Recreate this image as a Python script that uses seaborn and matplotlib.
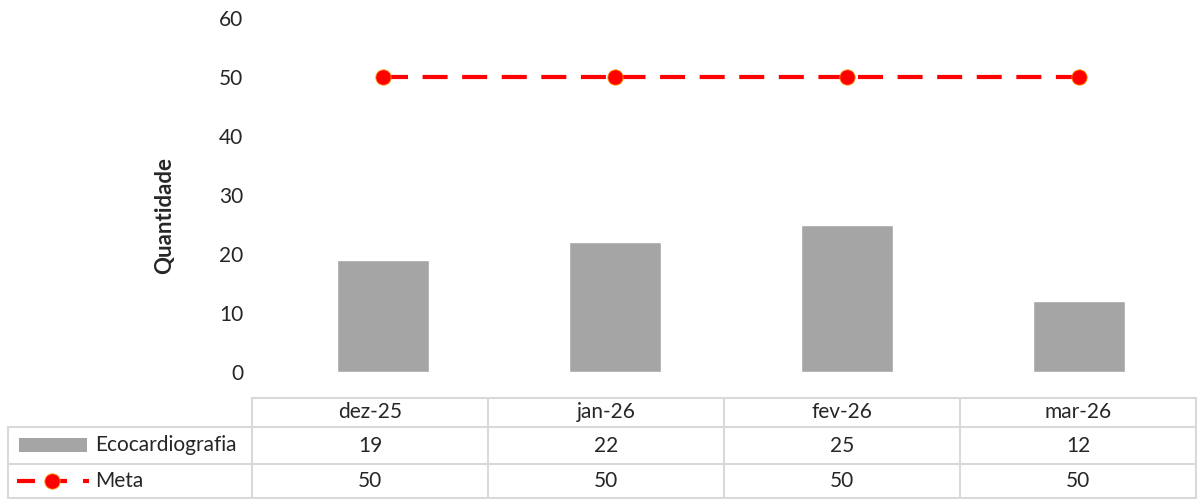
import pandas as pd
import seaborn as sns
import matplotlib.pyplot as plt
from matplotlib.lines import Line2D
from matplotlib.patches import Rectangle

months = ['dez-25', 'jan-26', 'fev-26', 'mar-26']
eco = [19, 22, 25, 12]
meta = [50, 50, 50, 50]

df = pd.DataFrame({'mes': months, 'Ecocardiografia': eco, 'Meta': meta})

sns.set_style('white')
plt.rcParams['font.family'] = ['Lato', 'DejaVu Sans']

W, H = 1197, 499
fig = plt.figure(figsize=(W / 100, H / 100), dpi=100)
ax = fig.add_axes([267 / W, (H - 372) / H, (1195 - 267) / W, (372 - 18) / H])

sns.barplot(data=df, x='mes', y='Ecocardiografia', color='#a5a5a5', saturation=1,
            width=0.4, ax=ax)
sns.pointplot(data=df, x='mes', y='Meta', color='red', markers='o', linestyles='--',
              markersize=11, linewidth=3, ax=ax)
for ln in ax.lines:
    ln.set_dashes([6, 3.5])
    ln.set_markeredgecolor('#ff8c00')
    ln.set_markeredgewidth(0.6)

ax.set_xlim(-0.5, 3.5)
ax.set_ylim(0, 60)
ax.set_yticks(range(0, 61, 10))
ax.tick_params(axis='y', labelsize=15, length=0, pad=17)
ax.set_xticks([])
ax.set_xlabel('')
ax.set_ylabel('Quantidade', fontsize=16, fontweight='bold', va='center')
ax.yaxis.set_label_coords((165 - 267) / 928, (372 - 215) / 354)
sns.despine(ax=ax, left=True, bottom=True)

# data table under the chart
grid = '#d9d9d9'
col_edges = [252, 488, 724, 960, 1196]
row_edges = [398, 427, 464, 498]

def fx(px):
    return px / W

def fy(py):
    return 1 - py / H

# horizontal lines
fig.add_artist(Line2D([fx(252), fx(1196)], [fy(398), fy(398)], color=grid, lw=1.5))
for y in row_edges[1:]:
    fig.add_artist(Line2D([fx(8), fx(1196)], [fy(y), fy(y)], color=grid, lw=1.5))
# vertical lines
for x in col_edges:
    fig.add_artist(Line2D([fx(x), fx(x)], [fy(398), fy(498)], color=grid, lw=1.5))
fig.add_artist(Line2D([fx(8), fx(8)], [fy(427), fy(498)], color=grid, lw=1.5))

row_vals = [months, [str(v) for v in eco], [str(v) for v in meta]]
for r, vals in enumerate(row_vals):
    yc = (row_edges[r] + row_edges[r + 1]) / 2
    for c, v in enumerate(vals):
        xc = (col_edges[c] + col_edges[c + 1]) / 2
        fig.text(fx(xc), fy(yc), v, ha='center', va='center', fontsize=15)

# legend keys in the table
fig.add_artist(Rectangle((fx(19), fy(452)), fx(87) - fx(19), fy(438) - fy(452),
                         facecolor='#a5a5a5', edgecolor='none'))
fig.text(fx(95), fy(445), 'Ecocardiografia', ha='left', va='center', fontsize=15)
for x0, x1 in [(17, 35), (45, 67), (83, 89)]:
    fig.add_artist(Line2D([fx(x0), fx(x1)], [fy(481), fy(481)], color='red', lw=3,
                          solid_capstyle='butt'))
fig.add_artist(Line2D([fx(52)], [fy(481)], color='red', marker='o', markersize=11,
                      markeredgecolor='#ff8c00', markeredgewidth=0.6))
fig.text(fx(95), fy(481), 'Meta', ha='left', va='center', fontsize=15)

fig.savefig('out.png', dpi=100)
